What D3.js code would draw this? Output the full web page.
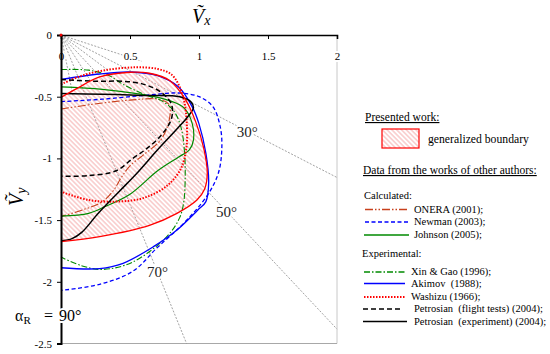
<!DOCTYPE html>
<html>
<head>
<meta charset="utf-8">
<script src="https://cdn.jsdelivr.net/npm/d3@7"></script>
<style>
  body { margin: 0; background: #fff; }
  svg text { font-family: "Liberation Serif", "Times New Roman", serif; }
</style>
</head>
<body>
<div id="chart"></div>
<script>
const width = 550;
const height = 354;

// tick values on both axes
const xTicks = [0, 0.5, 1, 1.5, 2];
const yTicks = [0, -0.5, -1, -1.5, -2, -2.5];

// rays from the origin (angle in degrees)
const longRays = [30, 50, 70];
const shortRays = [20, 40, 60, 80];
const shortRayLength = [0.62, 0.45, 0.42, 0.5];
const rayLabels = [
  {text: "30°", at: [1.35, -0.78]},
  {text: "50°", at: [1.2, -1.43]},
  {text: "70°", at: [0.7, -1.92]}
];

// generalized boundary (presented work), [Vx, Vy]
const boundary = [[0,-1.675],[0.28,-1.634],[0.646,-1.54],[0.84,-1.445],[0.985,-1.337],[1.04,-1.25],
  [1.06,-1.12],[1.035,-0.92],[0.975,-0.7],[0.9,-0.52],[0.79,-0.37],[0.64,-0.31],[0.5,-0.302],
  [0.28,-0.34],[0.12,-0.43],[0,-0.505]];

// other authors
const onera = [[0,-0.6],[0.27,-0.555],[0.5,-0.528],[0.7,-0.52],[0.78,-0.56],[0.79,-0.65],
  [0.73,-0.84],[0.6,-0.97],[0.5,-1.06],[0.44,-1.15],[0.38,-1.26],[0.3,-1.35],[0.15,-1.42],[0,-1.47]];
const newman = [[0,-0.54],[0.3,-0.52],[0.6,-0.49],[0.85,-0.47],[1.0,-0.5],[1.1,-0.58],[1.155,-0.75],
  [1.165,-0.93],[1.14,-1.12],[1.06,-1.3],[0.89,-1.525],[0.7,-1.72],[0.52,-1.915],[0.28,-2.02],[0,-2.07]];
const johnson = [[0,-0.42],[0.3,-0.44],[0.55,-0.475],[0.75,-0.52],[0.88,-0.58],[0.94,-0.68],
  [0.96,-0.85],[0.93,-0.93],[0.85,-0.99],[0.7,-1.1],[0.5,-1.29],[0.32,-1.39],[0.2,-1.445],[0,-1.467]];
const xinGao = [[0,-0.28],[0.2,-0.285],[0.35,-0.33],[0.45,-0.4],[0.6,-0.48],[0.74,-0.54],[0.82,-0.62],
  [0.87,-0.75],[0.895,-0.95],[0.9,-1.15],[0.89,-1.35],[0.86,-1.48],[0.77,-1.63],[0.52,-1.84],
  [0.3,-1.9],[0.15,-1.87],[0,-1.8]];
const akimov = [[0,-0.36],[0.28,-0.316],[0.5,-0.3],[0.7,-0.33],[0.85,-0.42],[0.95,-0.58],[1.0,-0.72],
  [1.05,-0.96],[1.07,-1.2],[1.05,-1.35],[0.99,-1.42],[0.84,-1.58],[0.67,-1.715],[0.45,-1.85],
  [0.28,-1.893],[0,-1.886]];
const washizu = [[0,-0.4],[0.15,-0.33],[0.32,-0.285],[0.54,-0.262],[0.7,-0.275],[0.8,-0.32],
  [0.86,-0.42],[0.895,-0.55],[0.91,-0.69],[0.91,-0.9],[0.87,-1.08],[0.77,-1.22],[0.6,-1.32],
  [0.4,-1.35],[0.2,-1.337],[0,-1.27]];
const petroFlight = [[0,-0.36],[0.25,-0.375],[0.45,-0.375],[0.6,-0.4],[0.72,-0.46],[0.8,-0.56],
  [0.8,-0.68],[0.72,-0.82],[0.61,-0.93],[0.52,-1.0],[0.4,-1.1],[0.2,-1.14],[0,-1.145]];
const petroExp = [[0,-0.475],[0.3,-0.48],[0.6,-0.49],[0.86,-0.5],[0.94,-0.54],[0.96,-0.59],
  [0.92,-0.66],[0.85,-0.75],[0.7,-0.93],[0.55,-1.12],[0.42,-1.27],[0.27,-1.445],[0.15,-1.6],
  [0.08,-1.65],[0,-1.667]];

const series = [
  {name: "ONERA (2001);", data: onera, color: "#c8401c", w: 1.1, dash: "8,2,1.5,2,1.5,2"},
  {name: "Newman (2003);", data: newman, color: "#0000ff", w: 1.3, dash: "4,2.5"},
  {name: "Johnson (2005);", data: johnson, color: "#008a00", w: 1.2, dash: null},
  {name: "Xin & Gao (1996);", data: xinGao, color: "#008a00", w: 1.1, dash: "6,2,1.5,2"},
  {name: "Akimov  (1988);", data: akimov, color: "#0000ff", w: 1.3, dash: null},
  {name: "Washizu (1966);", data: washizu, color: "#ff0000", w: 2, dash: "1.5,1.5"},
  {name: "Petrosian  (flight tests) (2004);", data: petroFlight, color: "#000", w: 1.5, dash: "5,3"},
  {name: "Petrosian  (experiment) (2004);", data: petroExp, color: "#000", w: 1.5, dash: null}
];

const svg = d3.select("#chart").append("svg")
    .attr("width", width)
    .attr("height", height);

const x = d3.scaleLinear().domain([0, 2]).range([61, 337]);
const y = d3.scaleLinear().domain([0, -2.5]).range([35, 343.5]);

// hatch pattern
const defs = svg.append("defs");
const pat = defs.append("pattern")
    .attr("id", "hatch")
    .attr("patternUnits", "userSpaceOnUse")
    .attr("width", 3.4).attr("height", 3.4)
    .attr("patternTransform", "rotate(45)");
pat.append("line")
    .attr("x1", 0).attr("y1", 1.7).attr("x2", 3.4).attr("y2", 1.7)
    .attr("stroke", "#f29a9a").attr("stroke-width", 0.8);

// frame right and bottom
svg.append("line").attr("x1", x(2)).attr("x2", x(2)).attr("y1", y(0)).attr("y2", y(-2.5))
    .attr("stroke", "#c8c8c8");
svg.append("line").attr("x1", x(0)).attr("x2", x(2)).attr("y1", y(-2.5)).attr("y2", y(-2.5))
    .attr("stroke", "#a8a8a8");

// rays
const rayG = svg.append("g").attr("stroke", "#8a8a8a").attr("stroke-width", 0.8)
    .attr("stroke-dasharray", "2,1.5");
longRays.forEach(a => {
  const t = Math.tan(a * Math.PI / 180);
  let ex = 2, ey = -2 * t;
  if (ey < -2.5) { ey = -2.5; ex = 2.5 / t; }
  rayG.append("line").attr("x1", x(0)).attr("y1", y(0)).attr("x2", x(ex)).attr("y2", y(ey));
});
shortRays.forEach((a, i) => {
  const r = shortRayLength[i], rad = a * Math.PI / 180;
  rayG.append("line").attr("x1", x(0)).attr("y1", y(0))
      .attr("x2", x(r * Math.cos(rad))).attr("y2", y(-r * Math.sin(rad)));
});

const line = d3.line().x(d => x(d[0])).y(d => y(d[1])).curve(d3.curveCatmullRom.alpha(0.5));

// generalized boundary
svg.append("path").attr("d", line(boundary) + "Z")
    .attr("fill", "url(#hatch)").attr("stroke", "none");

series.forEach(s => {
  svg.append("path").attr("d", line(s.data))
      .attr("fill", "none").attr("stroke", s.color).attr("stroke-width", s.w)
      .attr("stroke-dasharray", s.dash);
});
svg.append("path").attr("d", line(boundary))
    .attr("fill", "none").attr("stroke", "#ff0000").attr("stroke-width", 1.3);

// ray labels
svg.selectAll(".ray-label").data(rayLabels).join("text")
    .attr("x", d => x(d.at[0])).attr("y", d => y(d.at[1]))
    .attr("dy", "0.35em").attr("text-anchor", "middle")
    .attr("font-size", 15).attr("fill", "#222")
    .attr("stroke", "#fff").attr("stroke-width", 4).attr("paint-order", "stroke")
    .text(d => d.text);

// axes
const topAxis = svg.append("g").attr("transform", `translate(0,${y(0)})`)
    .call(d3.axisBottom(x).tickValues(xTicks).tickSize(4).tickPadding(13).tickFormat(d => String(d)));
const leftAxis = svg.append("g").attr("transform", `translate(${x(0)},0)`)
    .call(d3.axisLeft(y).tickValues(yTicks).tickSize(4).tickPadding(5).tickFormat(d => String(d)));
[topAxis, leftAxis].forEach(g => {
  g.select(".domain").attr("stroke", "#000").attr("stroke-width", 1.6);
  g.selectAll("text").attr("font-size", 11).attr("fill", "#000");
});
leftAxis.select(".domain").attr("stroke-width", 2);
topAxis.selectAll("text").attr("stroke", "#fff").attr("stroke-width", 4).attr("paint-order", "stroke");

svg.append("circle").attr("cx", x(0)).attr("cy", y(0)).attr("r", 1.5).attr("fill", "#e00");

// axis titles
const vx = svg.append("text").attr("x", 192).attr("y", 23)
    .attr("font-size", 20).attr("font-style", "italic");
vx.append("tspan").text("Ṽ");
vx.append("tspan").attr("font-size", 14).attr("dy", 2).text("x");

const vy = svg.append("text").attr("transform", "translate(23,206) rotate(-90)")
    .attr("font-size", 20).attr("font-style", "italic");
vy.append("tspan").text("Ṽ");
vy.append("tspan").attr("font-size", 14).attr("dy", 3).text("y");

// alpha_R = 90 deg on the vertical axis
const alpha = svg.append("text").attr("y", 321).attr("font-size", 16)
    .attr("stroke", "#fff").attr("stroke-width", 4).attr("paint-order", "stroke");
alpha.append("tspan").attr("x", 15).text("α");
alpha.append("tspan").attr("font-size", 11).attr("dy", 3).text("R");
alpha.append("tspan").attr("x", 44).attr("dy", -3).text("=");
alpha.append("tspan").attr("x", 59).text("90°");

// legend
const lg = svg.append("g").attr("font-size", 11.5);
lg.append("text").attr("x", 365).attr("y", 121).attr("text-decoration", "underline")
    .text("Presented work:");
lg.append("rect").attr("x", 382).attr("y", 129).attr("width", 37).attr("height", 19)
    .attr("fill", "url(#hatch)").attr("stroke", "#ff0000").attr("stroke-width", 1.2);
lg.append("text").attr("x", 428).attr("y", 143).attr("font-size", 11.7).text("generalized boundary");
lg.append("text").attr("x", 363).attr("y", 174).attr("text-decoration", "underline")
    .attr("font-size", 11.5).text("Data from the works of other authors:");
lg.append("text").attr("x", 364).attr("y", 199).attr("font-size", 10.5).text("Calculated:");
lg.append("text").attr("x", 362).attr("y", 257).attr("font-size", 10.5).text("Experimental:");

const legendY = [209.5, 222, 235, 272, 283.5, 297, 309, 321.5];
const legendX = [[365, 409, 414], [365, 409, 414], [364, 409, 414],
  [364, 405, 411], [364, 405, 411], [364, 405, 411], [363, 402, 414], [363, 407, 414]];
series.forEach((s, i) => {
  const [x1, x2, tx] = legendX[i];
  lg.append("line").attr("x1", x1).attr("x2", x2).attr("y1", legendY[i]).attr("y2", legendY[i])
      .attr("stroke", s.color).attr("stroke-width", s.w + 0.2).attr("stroke-dasharray", s.dash);
  lg.append("text").attr("x", tx).attr("y", legendY[i]).attr("dy", "0.33em")
      .attr("font-size", 10.5).attr("xml:space", "preserve").text(s.name);
});
</script>
</body>
</html>
